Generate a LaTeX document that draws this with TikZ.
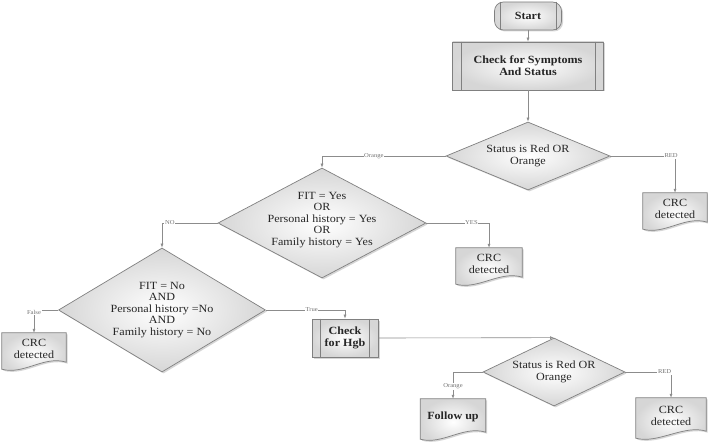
\documentclass[tikz,border=0pt]{standalone}
\usepackage{fontspec}
\setmainfont{Liberation Serif}[FakeStretch=1.1]
\usetikzlibrary{shapes.geometric,shapes.misc,shadows,arrows.meta,backgrounds}
\newcommand\mytext{\fontsize{11}{11.5}\selectfont}
\newcommand\mytextbf{\fontsize{11}{12}\selectfont\bfseries}
\newcommand\docpath[1]{%
  \path[baseshape] (#1.north west) -- (#1.north east) -- ([yshift=3pt]#1.south east)
    .. controls ([xshift=-22pt,yshift=10pt]#1.south east) and ([xshift=22pt,yshift=-10pt]#1.south west) ..
    ([yshift=-4pt]#1.south west) -- cycle;}
\begin{document}
\begin{tikzpicture}[x=1pt,y=-1pt,
  baseshape/.style={draw=black!50, line width=0.7pt, inner color=white, outer color=black!16,
    drop shadow={shadow xshift=1.5pt, shadow yshift=-1.5pt, opacity=0.35, fill=black!45}},
  decision/.style={baseshape, diamond, inner sep=0pt},
  dtext/.style={font=\mytext, align=center, text=black!85, inner sep=0pt},
  process/.style={baseshape, rectangle, align=center, font=\mytextbf, text=black!85, inner sep=1pt},
  term/.style={baseshape, rectangle, rounded corners=9pt, font=\mytextbf, text=black!85,
    minimum width=67pt, minimum height=28pt, inner sep=1pt},
  doctext/.style={rectangle, align=center, font=\mytext, text=black!85, inner sep=0pt},
  docbf/.style={doctext, font=\mytextbf},
  innerline/.style={draw=black!50, line width=0.6pt},
  conn/.style={draw=black!45, line width=0.6pt, -{Latex[length=4pt,width=3pt]}},
  lbl/.style={font=\fontsize{6}{6}\selectfont, text=black!55, fill=white, inner sep=0.6pt}]
\useasboundingbox (0,0) rectangle (708,441);

\node[term] (start) at (528,16) {Start};
\node[process, minimum width=151pt, minimum height=48pt] (p1) at (528,66) {Check for Symptoms\\And Status};
\node[decision, minimum width=164pt, minimum height=68pt,
  label={[dtext]center:{Status is Red OR\\Orange}}] (d1) at (528,156) {};
\node[decision, minimum width=208pt, minimum height=110pt,
  label={[dtext,yshift=3pt]center:{FIT = Yes\\OR\\Personal history = Yes\\OR\\Family history = Yes}}] (d2) at (322,223) {};
\node[decision, minimum width=207pt, minimum height=124pt,
  label={[dtext]center:{FIT = No\\AND\\Personal history =No\\AND\\Family history = No}}] (d3) at (162,310) {};
\node[process, minimum width=66pt, minimum height=38pt] (hgb) at (345,338) {Check\\for Hgb};
\node[decision, minimum width=142pt, minimum height=68pt,
  label={[dtext]center:{Status is Red OR\\Orange}}] (d4) at (554,372) {};

\node[doctext, minimum width=64pt, minimum height=32pt] (crc1) at (675,209) {CRC\\detected};
\node[doctext, minimum width=66pt, minimum height=32pt] (crc2) at (489,264) {CRC\\detected};
\node[doctext, minimum width=64pt, minimum height=32pt] (crc3) at (34,349) {CRC\\detected};
\node[docbf, minimum width=65pt, minimum height=36pt] (follow) at (453,417) {Follow up};
\node[doctext, minimum width=70pt, minimum height=36pt] (crc4) at (671,416) {CRC\\detected};

\begin{scope}[on background layer]
  \fill[white] (0,0) rectangle (708,441);
  \docpath{crc1}
  \docpath{crc2}
  \docpath{crc3}
  \docpath{follow}
  \docpath{crc4}
\end{scope}

\draw[innerline] ([xshift=6pt]start.north west) -- ([xshift=6pt]start.south west);
\draw[innerline] ([xshift=-6pt]start.north east) -- ([xshift=-6pt]start.south east);
\draw[innerline] ([xshift=9pt]p1.north west) -- ([xshift=9pt]p1.south west);
\draw[innerline] ([xshift=-9pt]p1.north east) -- ([xshift=-9pt]p1.south east);
\draw[innerline] ([xshift=9pt]hgb.north west) -- ([xshift=9pt]hgb.south west);
\draw[innerline] ([xshift=-9pt]hgb.north east) -- ([xshift=-9pt]hgb.south east);

\draw[conn] (start.south) -- (p1.north);
\draw[conn] (p1.south) -- (d1.north);
\draw[conn] (d1.west) -| node[lbl,pos=0.29]{Orange} (d2.north);
\draw[conn] (d1.east) -| node[lbl,pos=0.47]{RED} (crc1.north);
\draw[conn] (d2.east) -| node[lbl,pos=0.36]{YES} (crc2.north);
\draw[conn] (d2.west) -| node[lbl,pos=0.43]{NO} (d3.north);
\draw[conn] (d3.west) -| node[lbl,pos=0.5,yshift=-2pt]{False} (crc3.north);
\draw[conn] (d3.east) -| node[lbl,pos=0.29]{True} (hgb.north);
\draw[conn] (hgb.east) -- (d4.north);
\draw[conn] (d4.west) -| node[lbl,pos=0.77]{Orange} (follow.north);
\draw[conn] (d4.east) -| node[lbl,pos=0.43]{RED} (crc4.north);
\end{tikzpicture}
\end{document}
